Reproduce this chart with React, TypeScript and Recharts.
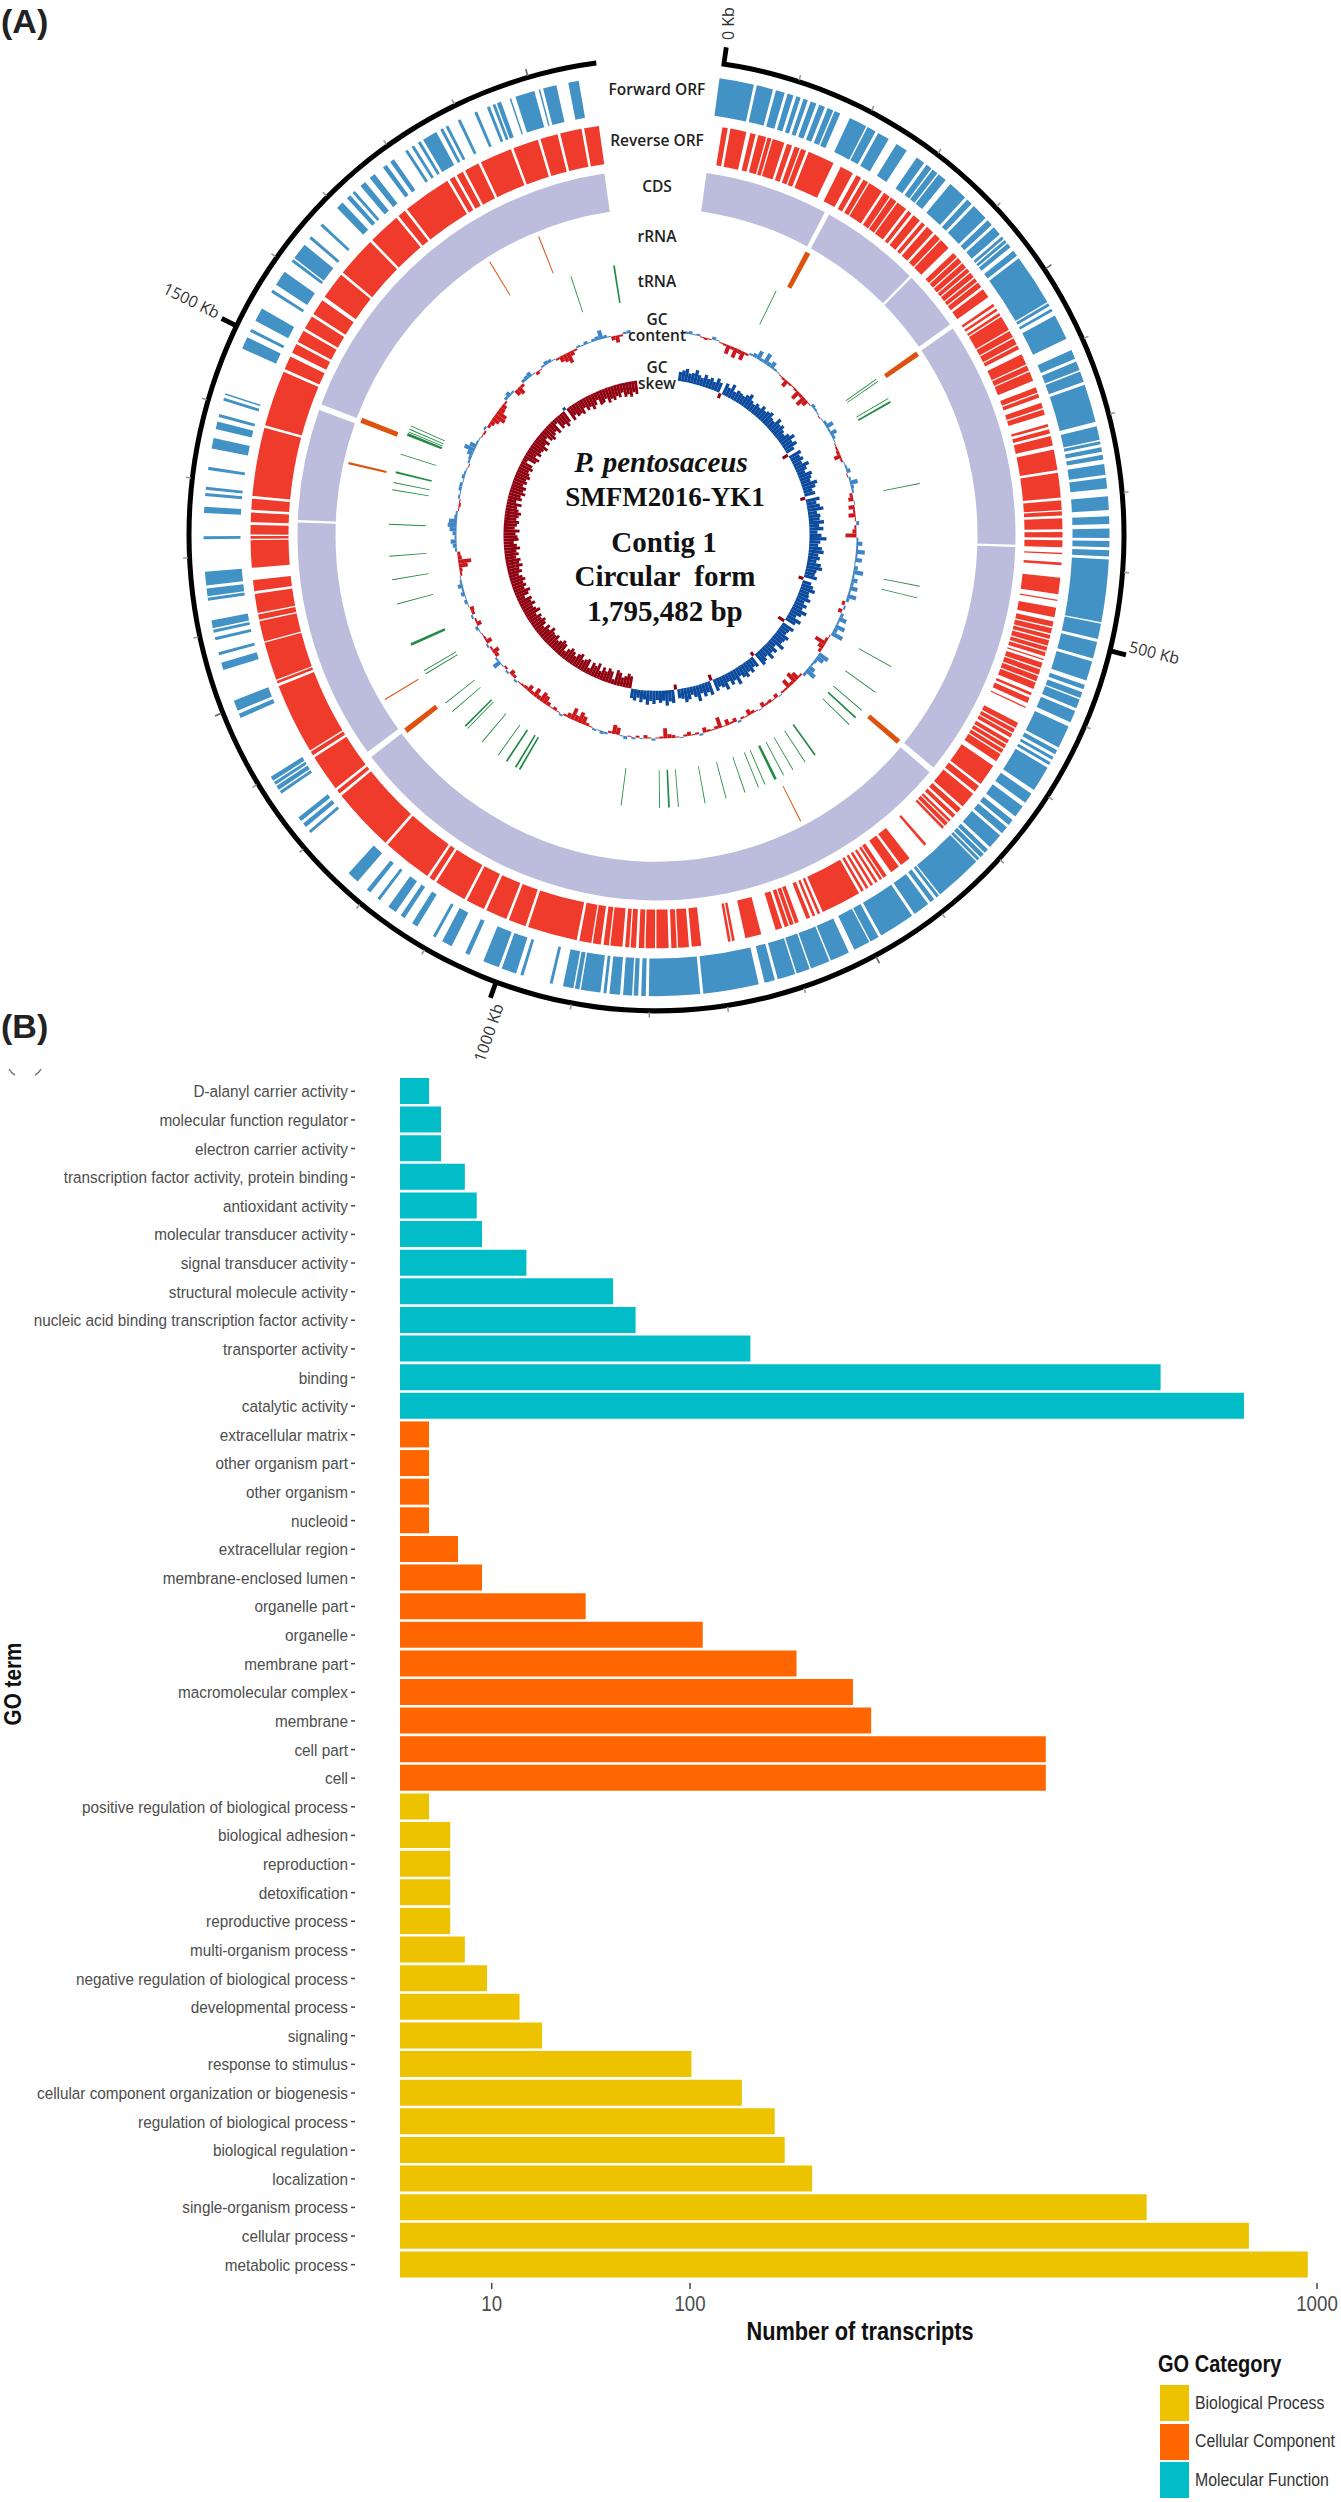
import React from 'react';
import { Bar, BarChart, Cell, Legend, Pie, PieChart, XAxis, YAxis } from 'recharts';

// ---- panel B data ----
const molecularFunctionTerms = ['D-alanyl carrier activity', 'molecular function regulator', 'electron carrier activity', 'transcription factor activity, protein binding', 'antioxidant activity', 'molecular transducer activity', 'signal transducer activity', 'structural molecule activity', 'nucleic acid binding transcription factor activity', 'transporter activity', 'binding', 'catalytic activity'];
const molecularFunctionCounts = [1, 2, 2, 5, 7, 8, 19, 54, 66, 146, 688, 847];
const cellularComponentTerms = ['extracellular matrix', 'other organism part', 'other organism', 'nucleoid', 'extracellular region', 'membrane-enclosed lumen', 'organelle part', 'organelle', 'membrane part', 'macromolecular complex', 'membrane', 'cell part', 'cell'];
const cellularComponentCounts = [1, 1, 1, 1, 4, 8, 41, 109, 187, 244, 264, 496, 496];
const biologicalProcessTerms = ['positive regulation of biological process', 'biological adhesion', 'reproduction', 'detoxification', 'reproductive process', 'multi-organism process', 'negative regulation of biological process', 'developmental process', 'signaling', 'response to stimulus', 'cellular component organization or biogenesis', 'regulation of biological process', 'biological regulation', 'localization', 'single-organism process', 'cellular process', 'metabolic process'];
const biologicalProcessCounts = [1, 3, 3, 3, 3, 5, 9, 17, 24, 101, 139, 167, 176, 202, 663, 857, 980];
const transcriptTicks = [10, 100, 1000];

// ---- panel A data, all in kb ----
const genomeKb = 1795;
const forwardOrf = [[0,23],[25,36],[38,44],[46,50],[52,55],[57,60],[62,66],[68,72],[74,78],[79,83],[90,102],[103,109],[111,119],[125,133],[141,147],[149,153],[154,158],[159,165],[169,182],[184,188],[190,201],[203,207],[209,215],[217,219],[220,222],[223,226],[229,233],[235,269],[270,272],[274,276],[279,296],[304,310],[312,318],[319,326],[328,353],[356,365],[366,368],[370,373],[375,378],[381,388],[390,397],[402,411],[415,420],[423,429],[431,435],[437,441],[443,484],[485,495],[497,508],[510,523],[526,529],[531,535],[536,542],[544,552],[555,570],[572,575],[577,579],[581,583],[585,602],[605,612],[615,623],[626,630],[632,637],[639,649],[651,654],[655,658],[659,661],[662,694],[695,697],[699,702],[704,715],[717,741],[743,749],[750,761],[765,778],[779,792],[793,802],[803,815],[817,824],[828,865],[867,901],[903,906],[908,911],[912,918],[920,927],[929,931],[933,946],[947,950],[951,958],[965,967],[985,987],[990,1000],[1002,1013],[1023,1026],[1036,1043],[1048,1050],[1062,1066],[1072,1075],[1079,1085],[1092,1094],[1100,1103],[1111,1119],[1155,1157],[1160,1163],[1165,1168],[1187,1189],[1190,1193],[1194,1196],[1197,1200],[1243,1246],[1248,1255],[1276,1281],[1286,1288],[1296,1298],[1301,1303],[1304,1309],[1322,1324],[1325,1330],[1332,1341],[1362,1364],[1379,1383],[1390,1392],[1394,1396],[1407,1409],[1421,1428],[1434,1439],[1442,1444],[1453,1455],[1457,1458],[1489,1497],[1501,1503],[1509,1518],[1530,1532],[1536,1546],[1554,1556],[1557,1568],[1573,1575],[1584,1586],[1600,1605],[1609,1612],[1614,1616],[1621,1625],[1629,1633],[1640,1643],[1646,1649],[1658,1660],[1663,1665],[1668,1670],[1672,1682],[1685,1687],[1689,1691],[1698,1700],[1710,1712],[1719,1721],[1723,1725],[1726,1729],[1735,1736],[1739,1752],[1755,1756],[1758,1767],[1775,1782]];
const reverseOrf = [[7,11],[13,25],[28,32],[34,40],[41,44],[45,54],[56,60],[62,66],[67,71],[73,93],[99,109],[112,116],[118,122],[123,134],[136,141],[142,147],[148,156],[158,161],[163,169],[171,174],[176,182],[184,189],[190,198],[203,207],[208,212],[213,217],[218,221],[222,226],[227,230],[231,235],[237,244],[250,252],[254,256],[258,260],[261,272],[273,278],[279,284],[285,288],[292,300],[301,305],[306,313],[318,322],[323,326],[330,334],[335,339],[346,348],[350,353],[355,362],[365,380],[382,400],[402,409],[410,413],[415,423],[425,429],[431,436],[440,441],[447,449],[458,470],[474,475],[480,487],[490,494],[495,499],[500,503],[504,508],[509,512],[513,516],[518,519],[521,525],[526,530],[531,535],[536,541],[544,546],[548,552],[555,556],[568,572],[573,576],[577,580],[582,585],[586,589],[590,593],[594,600],[604,620],[622,627],[629,641],[643,647],[649,652],[654,656],[657,660],[661,663],[679,681],[695,703],[705,712],[716,719],[720,722],[724,726],[728,730],[732,734],[736,738],[740,770],[772,774],[776,778],[780,783],[789,792],[793,796],[797,800],[802,807],[818,830],[838,840],[841,843],[863,870],[872,880],[881,885],[887,896],[897,904],[905,909],[911,915],[916,919],[921,930],[931,935],[937,943],[944,953],[955,992],[994,1007],[1009,1025],[1027,1041],[1043,1067],[1069,1073],[1075,1112],[1114,1161],[1163,1166],[1168,1195],[1197,1200],[1201,1253],[1255,1257],[1258,1286],[1287,1302],[1303,1307],[1308,1322],[1324,1332],[1341,1361],[1362,1364],[1365,1372],[1374,1381],[1383,1391],[1393,1443],[1445,1486],[1488,1498],[1501,1508],[1510,1519],[1521,1531],[1533,1545],[1548,1568],[1570,1600],[1602,1626],[1628,1634],[1636,1672],[1674,1678],[1680,1685],[1687,1698],[1700,1724],[1726,1745],[1747,1760],[1762,1778],[1780,1791]];
const cds = [[0,104],[108,192],[194,244],[248,435],[437,633],[638,1170],[1175,1375],[1377,1469],[1474,1790]];
const rrna = [[105,110],[246,251],[633,638],[754,755],[1167,1172],[1204,1205],[1431,1433],[1471,1476],[1667,1668],[1719,1720]];
const trna = [[96,97],[245,246],[248,249],[270,271],[274,276],[370,371],[483,484],[496,497],[577,578],[610,611],[635,636],[645,647],[656,657],[706,708],[720,721],[736,737],[748,749],[757,760],[771,772],[779,780],[795,796],[817,818],[841,842],[871,872],[881,883],[892,893],[935,936],[1055,1057],[1060,1062],[1072,1074],[1084,1085],[1107,1108],[1129,1130],[1132,1134],[1154,1155],[1166,1167],[1205,1206],[1209,1210],[1240,1243],[1288,1289],[1315,1316],[1341,1342],[1376,1377],[1414,1415],[1422,1423],[1433,1435],[1454,1455],[1476,1479],[1480,1481],[1483,1484],[1487,1488],[1736,1737],[1785,1787]];
const wholeGenome = [[0,1795]];
const minorTicks = [[50,51],[100,101],[150,151],[200,201],[300,301],[350,351],[400,401],[450,451],[550,551],[600,601],[650,651],[700,701],[800,801],[850,851],[900,901],[950,951],[1050,1051],[1100,1101],[1150,1151],[1200,1201],[1300,1301],[1350,1351],[1400,1401],[1450,1451],[1550,1551],[1600,1601],[1650,1651],[1700,1701]];
const mediumTicks = [[250,251],[750,751],[1250,1251],[1750,1751]];
const majorTicks = [[0,3],[499,502],[999,1002],[1499,1502]];

// outward (blue) when positive, inward (red) when negative
const gcContentBins = [
  2,3,1,2,-1,-2,-1,3,1,-1,-2,-9,-3,-10,-4,-9,-2,2,4,9,3,11,4,7,2,1,-1,-2,-7,-2,
  -1,-2,-9,-3,-10,-6,-1,3,2,1,-1,1,3,8,2,7,3,1,-1,-2,-3,-7,-2,1,2,4,-1,2,8,3,
  2,-3,-5,1,-6,-2,-7,-1,3,-2,-4,-11,2,6,2,9,2,7,1,4,10,2,6,3,8,2,9,3,-3,2,
  -4,3,8,2,10,4,12,-1,-3,-12,-6,-3,11,8,3,2,7,11,3,-2,-8,-11,-3,-9,-2,-2,1,-4,-1,-3,
  -2,-5,1,-1,-3,-6,-1,-2,2,-4,-2,-6,-1,-11,-3,-1,-2,-5,2,-2,-1,-4,-2,1,-1,-3,-4,-10,-2,-1,
  2,-1,-3,1,-2,2,-1,3,1,-7,-9,-2,2,3,1,2,-1,-3,-8,-11,-6,-12,-5,-2,2,-1,-3,-1,-4,-8,
  -10,-4,-9,-3,-7,-3,-2,-1,2,-3,-5,2,-2,1,8,2,-4,-7,-2,2,-6,-2,-1,1,3,-5,-2,2,-3,-4,
  1,3,1,4,2,5,2,1,-2,-3,-9,-13,-4,-3,2,4,6,2,4,7,9,8,3,2,-1,-2,-1,2,1,3,
  3,1,3,2,1,-1,2,3,6,11,7,2,1,-1,-2,2,-3,-5,-8,-12,-11,-6,-5,-2,3,5,2,-6,-8,-3,
  3,4,5,1,-3,-1,2,4,3,1,-2,-6,-8,-11,-5,-2,2,1,3,1,3,4,9,3,1,-4,-7,-2,2,3,
];
const gcSkewBins = [
  9,11,13,9,10,14,10,8,12,9,11,8,13,10,-5,12,9,14,8,11,10,9,12,15,10,8,11,9,13,10,
  12,14,10,9,15,11,13,10,8,12,16,11,14,9,-6,13,10,12,9,15,11,8,14,12,10,16,13,9,11,-5,
  14,10,13,16,9,12,11,15,10,14,8,12,17,11,9,13,15,10,12,9,14,16,11,10,13,-5,9,12,15,10,
  11,14,9,13,10,16,12,8,15,11,-7,13,10,9,14,12,11,16,8,13,10,15,9,12,14,-4,11,9,13,10,
  14,12,9,16,10,13,8,15,11,9,12,-6,14,10,13,9,16,11,8,12,14,10,9,-5,13,11,15,10,12,9,
  13,10,14,9,12,8,11,9,
  -12,-14,-11,-9,-13,-15,-5,-12,-14,-10,-13,-8,-15,-11,-13,-6,-14,-12,-10,-15,-13,-9,-12,-14,-11,-7,-13,-15,-12,-10,
  -14,-12,-13,-16,-11,-14,-9,-13,-15,-12,-14,-10,-16,-13,-11,-15,-12,-14,-8,-13,-16,-11,-14,-12,-15,-13,-10,-14,-12,-16,
  -13,-15,-11,-14,-12,-16,-13,-10,-15,-14,-12,-16,-11,-13,-15,-12,-14,-16,-13,-11,-15,-9,-14,-12,-16,-13,-15,-11,-14,-12,
  -15,-13,-11,-14,-12,-5,-13,-15,-10,-14,-12,-13,-16,-11,-14,-8,-13,-15,-12,-10,-14,-5,-13,-11,-15,-12,3,-14,-10,-13,
  -12,-14,-9,-13,-11,-15,-12,-8,-14,-13,-10,-15,-12,-14,-11,-13,-9,-14,-12,-15,-11,-13,
];

const BP_COLOR = '#EDC300';
const CC_COLOR = '#FF6600';
const MF_COLOR = '#00BDC8';
const SANS = '"Liberation Sans", Arial, sans-serif';

const goRows = [
  ...molecularFunctionTerms.map((term, i) => ({ term, mf: molecularFunctionCounts[i] })),
  ...cellularComponentTerms.map((term, i) => ({ term, cc: cellularComponentCounts[i] })),
  ...biologicalProcessTerms.map((term, i) => ({ term, bp: biologicalProcessCounts[i] })),
];

// turn [start, end] features into gap/feature slices for a Pie
const toSlices = (blocks: number[][]) => {
  const rows: { value: number; on: boolean }[] = [];
  let pos = 0;
  blocks.forEach(([start, end]) => {
    rows.push({ value: start - pos, on: false });
    rows.push({ value: end - start, on: true });
    pos = end;
  });
  rows.push({ value: genomeKb - pos, on: false });
  return rows;
};

const toBins = (bins: number[]) => bins.map(bin => ({ value: genomeKb / bins.length, bin }));

const tracks = [
  { name: 'ring', blocks: wholeGenome, inner: 465, outer: 470, color: '#000000' },
  { name: 'minor', blocks: minorTicks, inner: 469, outer: 474, color: '#9a9a9a' },
  { name: 'medium', blocks: mediumTicks, inner: 469, outer: 476, color: '#666666' },
  { name: 'major', blocks: majorTicks, inner: 469, outer: 484, color: '#000000' },
  { name: 'forward', blocks: forwardOrf, inner: 416, outer: 453, color: '#4292C6' },
  { name: 'reverse', blocks: reverseOrf, inner: 368, outer: 406, color: '#EF3B2C' },
  { name: 'cds', blocks: cds, inner: 321, outer: 359, color: '#BCBDDC' },
  { name: 'rrna', blocks: rrna, inner: 277, outer: 316, color: '#DE5210' },
  { name: 'trna', blocks: trna, inner: 231, outer: 268, color: '#238B45' },
];

const arc = {
  cx: 656.5,
  cy: 535,
  startAngle: 82,
  endAngle: -262.6,
  dataKey: 'value',
  stroke: 'none',
  isAnimationActive: false,
  legendType: 'none' as const,
  label: false,
};

// signed bars round a base radius: outward with a radius function, inward one Pie per depth
const binnedRing = (name: string, bins: number[], base: number, up: string, down: string) => {
  const rows = toBins(bins);
  const depths = [...new Set(bins.filter(b => b < 0))];
  return [
    <Pie key={`${name}-up`} {...arc} data={rows} innerRadius={base} outerRadius={(r: any) => (r.bin > 0 ? base + r.bin : base)}>
      {rows.map((r, i) => <Cell key={i} fill={r.bin > 0 ? up : 'transparent'} />)}
    </Pie>,
    ...depths.map(depth => (
      <Pie key={`${name}${depth}`} {...arc} data={rows} innerRadius={base + depth} outerRadius={base}>
        {rows.map((r, i) => <Cell key={i} fill={r.bin === depth ? down : 'transparent'} />)}
      </Pie>
    )),
  ];
};

const GenomeMap = () => (
  <div style={{ position: 'absolute', left: 0, top: 0, width: 1341, height: 1040, transform: 'scaleY(1.018)', transformOrigin: '0 535px' }}>
    <PieChart width={1341} height={1040} margin={{ top: 0, right: 0, bottom: 0, left: 0 }}>
      {tracks.map(track => {
        const rows = toSlices(track.blocks);
        return (
          <Pie key={track.name} {...arc} data={rows} innerRadius={track.inner} outerRadius={track.outer}>
            {rows.map((r, i) => <Cell key={i} fill={r.on ? track.color : 'transparent'} />)}
          </Pie>
        );
      })}
      {binnedRing('content', gcContentBins, 200, '#3F86C6', '#CB181D')}
      {binnedRing('skew', gcSkewBins, 153, '#0B4A9C', '#8F0010')}
    </PieChart>
  </div>
);

const trackLabels = [
  { text: 'Forward ORF', y: 95 },
  { text: 'Reverse ORF', y: 146 },
  { text: 'CDS', y: 192 },
  { text: 'rRNA', y: 242 },
  { text: 'tRNA', y: 287 },
  { text: 'GC', y: 325 },
  { text: 'content', y: 341 },
  { text: 'GC', y: 373 },
  { text: 'skew', y: 389 },
];

const Annotations = () => (
  <svg width={1341} height={2502} style={{ position: 'absolute', left: 0, top: 0, pointerEvents: 'none' }}>
    <g fontFamily={SANS} fontWeight={700} fontSize={34} fill="#222">
      <text x={1} y={33}>(A)</text>
      <text x={1} y={1038}>(B)</text>
    </g>
    <path d="M9 1069 q2 4 6 6 M41 1069 q-2 4 -6 6" fill="none" stroke="#777" strokeWidth={1.5} />
    <g fontFamily="Open Sans, sans-serif" fontWeight={600} fontSize={15.5} fill="#222" textAnchor="middle">
      {trackLabels.map((l, i) => <text key={i} x={657} y={l.y}>{l.text}</text>)}
    </g>
    <g fontFamily="Open Sans, sans-serif" fontSize={16} fill="#333">
      <text transform="translate(734 40) rotate(-90)">0 Kb</text>
      <text transform="translate(1128 652) rotate(14)">500 Kb</text>
      <text transform="translate(504 1006) rotate(-71)" textAnchor="end">1000 Kb</text>
      <text transform="translate(216 319) rotate(26)" textAnchor="end">1500 Kb</text>
    </g>
    <g fontFamily="Liberation Serif, serif" fill="#111" textAnchor="middle">
      <text x={661} y={472} fontSize={29} fontStyle="italic" fontWeight={700}>P. pentosaceus</text>
      <text x={665} y={506} fontSize={27} fontWeight={700}>SMFM2016-YK1</text>
      <text x={664} y={552} fontSize={29} fontWeight={700}>Contig 1</text>
      <text x={665} y={586} fontSize={29} fontWeight={700} style={{ whiteSpace: 'pre' }}>Circular  form</text>
      <text x={665} y={621} fontSize={29} fontWeight={700}>1,795,482 bp</text>
    </g>
    <g fontFamily={SANS} fontWeight={700} fill="#111" textAnchor="middle">
      <text transform="translate(860 2340) scale(0.87 1)" fontSize={25}>Number of transcripts</text>
      <text transform="translate(21 1684) rotate(-90) scale(0.9 1)" fontSize={23}>GO term</text>
    </g>
  </svg>
);

const GoTermTick = ({ x, y, payload }: any) => (
  <g>
    <line x1={x - 41} x2={x - 37} y1={y} y2={y} stroke="#444" strokeWidth={1.5} />
    <text transform={`translate(${x - 44} ${y + 6}) scale(0.9 1)`} textAnchor="end" fontFamily={SANS} fontSize={17} fill="#4d4d4d">{payload.value}</text>
  </g>
);

const TranscriptTick = ({ x, y, payload }: any) => (
  <text transform={`translate(${x} ${y + 20}) scale(0.85 1)`} textAnchor="middle" fontFamily={SANS} fontSize={22} fill="#4d4d4d">{payload.value}</text>
);

const GoLegend = ({ payload }: any) => (
  <div style={{ fontFamily: SANS, width: 180, whiteSpace: 'nowrap' }}>
    <div style={{ fontWeight: 700, fontSize: 23, color: '#111', height: 34, lineHeight: '28px', marginLeft: -2, transform: 'scaleX(0.87)', transformOrigin: '0 0' }}>GO Category</div>
    {(payload || []).map((entry: any) => (
      <div key={entry.value} style={{ display: 'flex', alignItems: 'center', height: 38.5 }}>
        <span style={{ width: 29, height: 36, background: entry.color, marginRight: 6, flex: 'none' }} />
        <span style={{ fontSize: 18, color: '#333', transform: 'scaleX(0.88)', transformOrigin: '0 50%' }}>{entry.value}</span>
      </div>
    ))}
  </div>
);

const GoChart = () => (
  <div style={{ position: 'absolute', left: 0, top: 1050, width: 1341, height: 1452 }}>
    <BarChart
      layout="vertical"
      width={1341}
      height={1452}
      data={goRows}
      barSize={26}
      barCategoryGap={0}
      margin={{ top: 27, right: 24, bottom: 0, left: 0 }}
    >
      <XAxis
        type="number"
        scale="sqrt"
        domain={[0, 1000]}
        ticks={transcriptTicks}
        axisLine={false}
        tickSize={6}
        tickLine={{ stroke: '#444', strokeWidth: 1.5 }}
        height={219}
        tick={TranscriptTick}
      />
      <YAxis
        type="category"
        dataKey="term"
        width={400}
        interval={0}
        axisLine={false}
        tickLine={false}
        padding={{ top: 0, bottom: 4 }}
        tick={GoTermTick}
      />
      <Legend
        layout="vertical"
        align="center"
        verticalAlign="middle"
        content={GoLegend}
        wrapperStyle={{ left: 1160, top: 1300, width: 180, height: 150 }}
      />
      <Bar dataKey="bp" name="Biological Process" stackId="go" fill={BP_COLOR} isAnimationActive={false} />
      <Bar dataKey="cc" name="Cellular Component" stackId="go" fill={CC_COLOR} isAnimationActive={false} />
      <Bar dataKey="mf" name="Molecular Function" stackId="go" fill={MF_COLOR} isAnimationActive={false} />
    </BarChart>
  </div>
);

export default function App() {
  return (
    <div style={{ position: 'absolute', left: 0, top: 0, width: 1341, height: 2502, background: '#fff', overflow: 'hidden' }}>
      <GenomeMap />
      <GoChart />
      <Annotations />
    </div>
  );
}
